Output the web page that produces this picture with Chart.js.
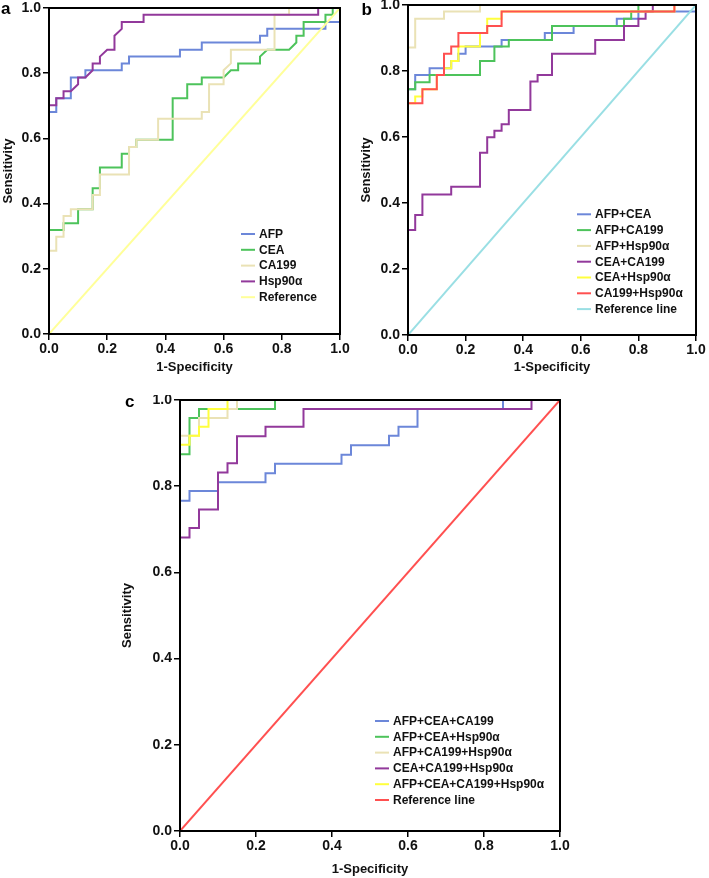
<!DOCTYPE html>
<html>
<head>
<meta charset="utf-8">
<script src="https://cdn.jsdelivr.net/npm/chart.js@4.4.1/dist/chart.umd.min.js"></script>
<style>
  body { margin: 0; background: #fff; width: 709px; height: 878px; position: relative; overflow: hidden; }
  canvas { position: absolute; }
  #ca { left: 0; top: 0; }
  #cb { left: 350px; top: 0; }
  #cc { left: 110px; top: 395px; }
</style>
</head>
<body>
<canvas id="ca" width="350" height="380"></canvas>
<canvas id="cb" width="359" height="380"></canvas>
<canvas id="cc" width="470" height="483"></canvas>
<script>
// panel a
const labelsA = ["AFP", "CEA", "CA199", "Hsp90α", "Reference"];
const afpX = [0, 0.025, 0.025, 0.075, 0.075, 0.125, 0.125, 0.25, 0.25, 0.275, 0.275, 0.45, 0.45, 0.525, 0.525, 0.725, 0.725, 0.75, 0.75, 0.95, 0.95, 1, 1];
const afpY = [0.681, 0.681, 0.723, 0.723, 0.787, 0.787, 0.809, 0.809, 0.830, 0.830, 0.851, 0.851, 0.872, 0.872, 0.894, 0.894, 0.915, 0.915, 0.936, 0.936, 0.957, 0.957, 1];
const ceaX = [0, 0.05, 0.05, 0.1, 0.1, 0.15, 0.15, 0.175, 0.175, 0.25, 0.25, 0.275, 0.275, 0.3, 0.3, 0.425, 0.425, 0.475, 0.475, 0.525, 0.525, 0.6, 0.625, 0.65, 0.65, 0.725, 0.725, 0.75, 0.825, 0.85, 0.85, 0.875, 0.875, 0.95, 0.95, 0.975, 0.975, 1];
const ceaY = [0.319, 0.319, 0.340, 0.340, 0.383, 0.383, 0.447, 0.447, 0.511, 0.511, 0.553, 0.553, 0.574, 0.574, 0.596, 0.596, 0.723, 0.723, 0.766, 0.766, 0.787, 0.787, 0.809, 0.809, 0.830, 0.830, 0.851, 0.872, 0.872, 0.894, 0.915, 0.915, 0.957, 0.957, 0.979, 0.979, 1, 1];
const ca199X = [0, 0.025, 0.025, 0.05, 0.05, 0.075, 0.075, 0.15, 0.15, 0.175, 0.175, 0.275, 0.275, 0.3, 0.3, 0.375, 0.375, 0.525, 0.525, 0.55, 0.55, 0.6, 0.6, 0.625, 0.625, 0.775, 0.775, 0.825, 0.825, 1];
const ca199Y = [0.255, 0.255, 0.298, 0.298, 0.362, 0.362, 0.383, 0.383, 0.426, 0.426, 0.489, 0.489, 0.574, 0.574, 0.596, 0.596, 0.660, 0.660, 0.681, 0.681, 0.766, 0.766, 0.809, 0.830, 0.872, 0.872, 0.979, 0.979, 1, 1];
const hspX = [0, 0.025, 0.025, 0.05, 0.05, 0.075, 0.1, 0.1, 0.125, 0.15, 0.15, 0.175, 0.175, 0.2, 0.225, 0.225, 0.25, 0.25, 0.325, 0.325, 0.925, 0.925, 1];
const hspY = [0.702, 0.702, 0.723, 0.723, 0.745, 0.745, 0.766, 0.787, 0.787, 0.809, 0.830, 0.830, 0.851, 0.872, 0.872, 0.915, 0.936, 0.957, 0.957, 0.979, 0.979, 1, 1];
const refX = [0, 1];
const refY = [0, 1];

// panel b
const labelsB = ["AFP+CEA", "AFP+CA199", "AFP+Hsp90α", "CEA+CA199", "CEA+Hsp90α", "CA199+Hsp90α", "Reference line"];
const afpCeaX = [0, 0.025, 0.025, 0.075, 0.075, 0.15, 0.15, 0.175, 0.175, 0.2, 0.2, 0.325, 0.325, 0.475, 0.475, 0.575, 0.575, 0.725, 0.725, 0.8, 0.8, 1, 1];
const afpCeaY = [0.745, 0.745, 0.788, 0.788, 0.808, 0.808, 0.830, 0.830, 0.852, 0.852, 0.874, 0.874, 0.894, 0.894, 0.915, 0.915, 0.936, 0.936, 0.958, 0.958, 0.980, 0.980, 1];
const afpCa199X = [0, 0.025, 0.025, 0.075, 0.075, 0.25, 0.25, 0.3, 0.3, 0.35, 0.35, 0.5, 0.5, 0.75, 0.75, 0.775, 0.775, 0.8, 0.8, 1];
const afpCa199Y = [0.745, 0.745, 0.766, 0.766, 0.788, 0.788, 0.830, 0.830, 0.874, 0.874, 0.894, 0.894, 0.936, 0.936, 0.958, 0.958, 0.980, 0.980, 1, 1];
const afpHspX = [0, 0.025, 0.025, 0.125, 0.125, 0.25, 0.25, 1];
const afpHspY = [0.871, 0.871, 0.958, 0.958, 0.980, 0.980, 1, 1];
const ceaCa199X = [0, 0.025, 0.025, 0.05, 0.05, 0.15, 0.15, 0.25, 0.25, 0.275, 0.275, 0.3, 0.3, 0.325, 0.325, 0.35, 0.35, 0.425, 0.425, 0.45, 0.45, 0.5, 0.5, 0.65, 0.65, 0.75, 0.75, 0.8, 0.8, 0.825, 0.825, 0.85, 0.85, 1];
const ceaCa199Y = [0.318, 0.318, 0.364, 0.364, 0.426, 0.426, 0.449, 0.449, 0.552, 0.552, 0.599, 0.599, 0.619, 0.619, 0.639, 0.639, 0.682, 0.682, 0.768, 0.768, 0.788, 0.788, 0.852, 0.852, 0.894, 0.894, 0.936, 0.936, 0.958, 0.958, 0.980, 0.980, 1, 1];
const ceaHspX = [0, 0.025, 0.025, 0.05, 0.05, 0.1, 0.1, 0.125, 0.125, 0.15, 0.15, 0.175, 0.175, 0.25, 0.25, 0.275, 0.275, 0.325, 0.325, 0.925, 0.925, 1];
const ceaHspY = [0.702, 0.702, 0.723, 0.723, 0.745, 0.745, 0.788, 0.788, 0.808, 0.808, 0.830, 0.830, 0.874, 0.874, 0.915, 0.915, 0.958, 0.958, 0.980, 0.980, 1, 1];
const ca199HspX = [0, 0.05, 0.05, 0.1, 0.1, 0.125, 0.125, 0.15, 0.15, 0.175, 0.175, 0.275, 0.275, 0.325, 0.325, 0.925, 0.925, 1];
const ca199HspY = [0.702, 0.702, 0.745, 0.745, 0.788, 0.788, 0.852, 0.852, 0.874, 0.874, 0.915, 0.915, 0.936, 0.936, 0.980, 0.980, 1, 1];

// panel c
const labelsC = ["AFP+CEA+CA199", "AFP+CEA+Hsp90α", "AFP+CA199+Hsp90α", "CEA+CA199+Hsp90α", "AFP+CEA+CA199+Hsp90α", "Reference line"];
const tri1X = [0, 0.025, 0.025, 0.1, 0.1, 0.225, 0.225, 0.25, 0.25, 0.425, 0.425, 0.45, 0.45, 0.55, 0.55, 0.575, 0.575, 0.625, 0.625, 0.85, 0.85, 1];
const tri1Y = [0.766, 0.766, 0.789, 0.789, 0.809, 0.809, 0.830, 0.830, 0.852, 0.852, 0.873, 0.873, 0.895, 0.895, 0.917, 0.917, 0.938, 0.938, 0.979, 0.979, 1, 1];
const tri2X = [0, 0.025, 0.025, 0.05, 0.05, 0.25, 0.25, 1];
const tri2Y = [0.874, 0.874, 0.958, 0.958, 0.979, 0.979, 1, 1];
const tri3X = [0, 0.05, 0.05, 0.125, 0.125, 0.15, 0.15, 1];
const tri3Y = [0.917, 0.917, 0.958, 0.958, 0.979, 0.979, 1, 1];
const tri4X = [0, 0.025, 0.025, 0.05, 0.05, 0.1, 0.1, 0.125, 0.125, 0.15, 0.15, 0.225, 0.225, 0.325, 0.325, 0.925, 0.925, 1];
const tri4Y = [0.681, 0.681, 0.703, 0.703, 0.746, 0.746, 0.832, 0.832, 0.853, 0.853, 0.916, 0.916, 0.938, 0.938, 0.979, 0.979, 1, 1];
const quadX = [0, 0.025, 0.025, 0.05, 0.05, 0.075, 0.075, 0.125, 0.125, 1];
const quadY = [0.896, 0.896, 0.917, 0.917, 0.938, 0.938, 0.979, 0.979, 1, 1];

const blue = "#6C87D9", green = "#4DC35B", beige = "#EAE2B5", purple = "#92399B";
const paleYellow = "#FFFF99", yellow = "#FFFF3D", red = "#FF5050", cyan = "#9ADFE4";

const family = "'Liberation Sans', Arial, sans-serif";

function pts(xs, ys) {
  return xs.map((x, i) => ({ x: x, y: ys[i] }));
}

const framePlugin = {
  id: "frame",
  afterDatasetsDraw(chart, args, opts) {
    const { ctx, chartArea: a } = chart;
    ctx.save();
    ctx.strokeStyle = "#000";
    ctx.lineWidth = 2;
    ctx.strokeRect(a.left, a.top, a.right - a.left, a.bottom - a.top);
    ctx.fillStyle = "#000";
    ctx.font = "bold 17px " + family;
    ctx.textBaseline = "alphabetic";
    ctx.fillText(opts.letter, opts.lx, opts.ly);
    // legend
    ctx.font = "bold 12px " + family;
    ctx.textBaseline = "middle";
    chart.data.datasets.forEach((ds, i) => {
      const y = opts.y + i * opts.gap;
      ctx.strokeStyle = ds.borderColor;
      ctx.lineWidth = 2;
      ctx.beginPath();
      ctx.moveTo(opts.x, y);
      ctx.lineTo(opts.x + 14, y);
      ctx.stroke();
      ctx.fillStyle = "#111";
      ctx.fillText(ds.label, opts.x + 18, y + 0.5);
    });
    ctx.restore();
  }
};

function makeChart(id, labels, series, colors, cfg) {
  const n = series.length;
  const tickFont = { family: family, size: 14, weight: "bold" };
  const titleFont = { family: family, size: 13, weight: "bold" };
  new Chart(document.getElementById(id), {
    type: "line",
    data: {
      datasets: series.map((s, i) => ({
        label: labels[i],
        data: pts(s[0], s[1]),
        borderColor: colors[i],
        borderWidth: 2,
        pointRadius: 0,
        fill: false,
        tension: 0,
        order: n - i
      }))
    },
    options: {
      responsive: false,
      animation: false,
      events: [],
      layout: { padding: { top: cfg.top, right: cfg.right, left: 0, bottom: 0 } },
      plugins: { legend: { display: false }, tooltip: { enabled: false }, frame: cfg.legend },
      scales: {
        x: {
          type: "linear", min: 0, max: 1,
          ticks: { stepSize: 0.2, callback: v => v.toFixed(1), font: tickFont, color: "#111", padding: 1, maxRotation: 0, autoSkip: false },
          grid: { drawOnChartArea: false, tickLength: 6, color: "#000", lineWidth: 1.5 },
          border: { color: "#000", width: 2 },
          title: { display: true, text: "1-Specificity", font: titleFont, color: "#111", padding: { top: 0, bottom: cfg.xpb } },
          afterFit: s => { s.height = cfg.xh; s.paddingLeft = 0; s.paddingRight = 0; }
        },
        y: {
          type: "linear", min: 0, max: 1,
          ticks: { stepSize: 0.2, callback: v => v.toFixed(1), font: tickFont, color: "#111", padding: 2 },
          grid: { drawOnChartArea: false, tickLength: 6, color: "#000", lineWidth: 1.5 },
          border: { color: "#000", width: 2 },
          title: { display: true, text: "Sensitivity", font: titleFont, color: "#111", padding: { top: cfg.ypt, bottom: 0 } },
          afterFit: s => { s.width = cfg.yw; s.paddingTop = 0; s.paddingBottom = 0; }
        }
      }
    },
    plugins: [framePlugin]
  });
}

makeChart("ca", labelsA,
  [[afpX, afpY], [ceaX, ceaY], [ca199X, ca199Y], [hspX, hspY], [refX, refY]],
  [blue, green, beige, purple, paleYellow],
  { top: 8, right: 10, yw: 49, xh: 46, xpb: 5, ypt: 1,
    legend: { letter: "a", lx: 1, ly: 13.5, x: 241, y: 234, gap: 15.8 } });

makeChart("cb", labelsB,
  [[afpCeaX, afpCeaY], [afpCa199X, afpCa199Y], [afpHspX, afpHspY], [ceaCa199X, ceaCa199Y], [ceaHspX, ceaHspY], [ca199HspX, ca199HspY], [refX, refY]],
  [blue, green, beige, purple, yellow, red, cyan],
  { top: 5, right: 13, yw: 58, xh: 45, xpb: 5, ypt: 9,
    legend: { letter: "b", lx: 11.5, ly: 15, x: 227, y: 214.3, gap: 15.8 } });

makeChart("cc", labelsC,
  [[tri1X, tri1Y], [tri2X, tri2Y], [tri3X, tri3Y], [tri4X, tri4Y], [quadX, quadY], [refX, refY]],
  [blue, green, beige, purple, yellow, red],
  { top: 5, right: 20, yw: 70, xh: 47, xpb: 1, ypt: 10,
    legend: { letter: "c", lx: 15, ly: 12, x: 265, y: 326, gap: 15.8 } });
</script>
</body>
</html>
